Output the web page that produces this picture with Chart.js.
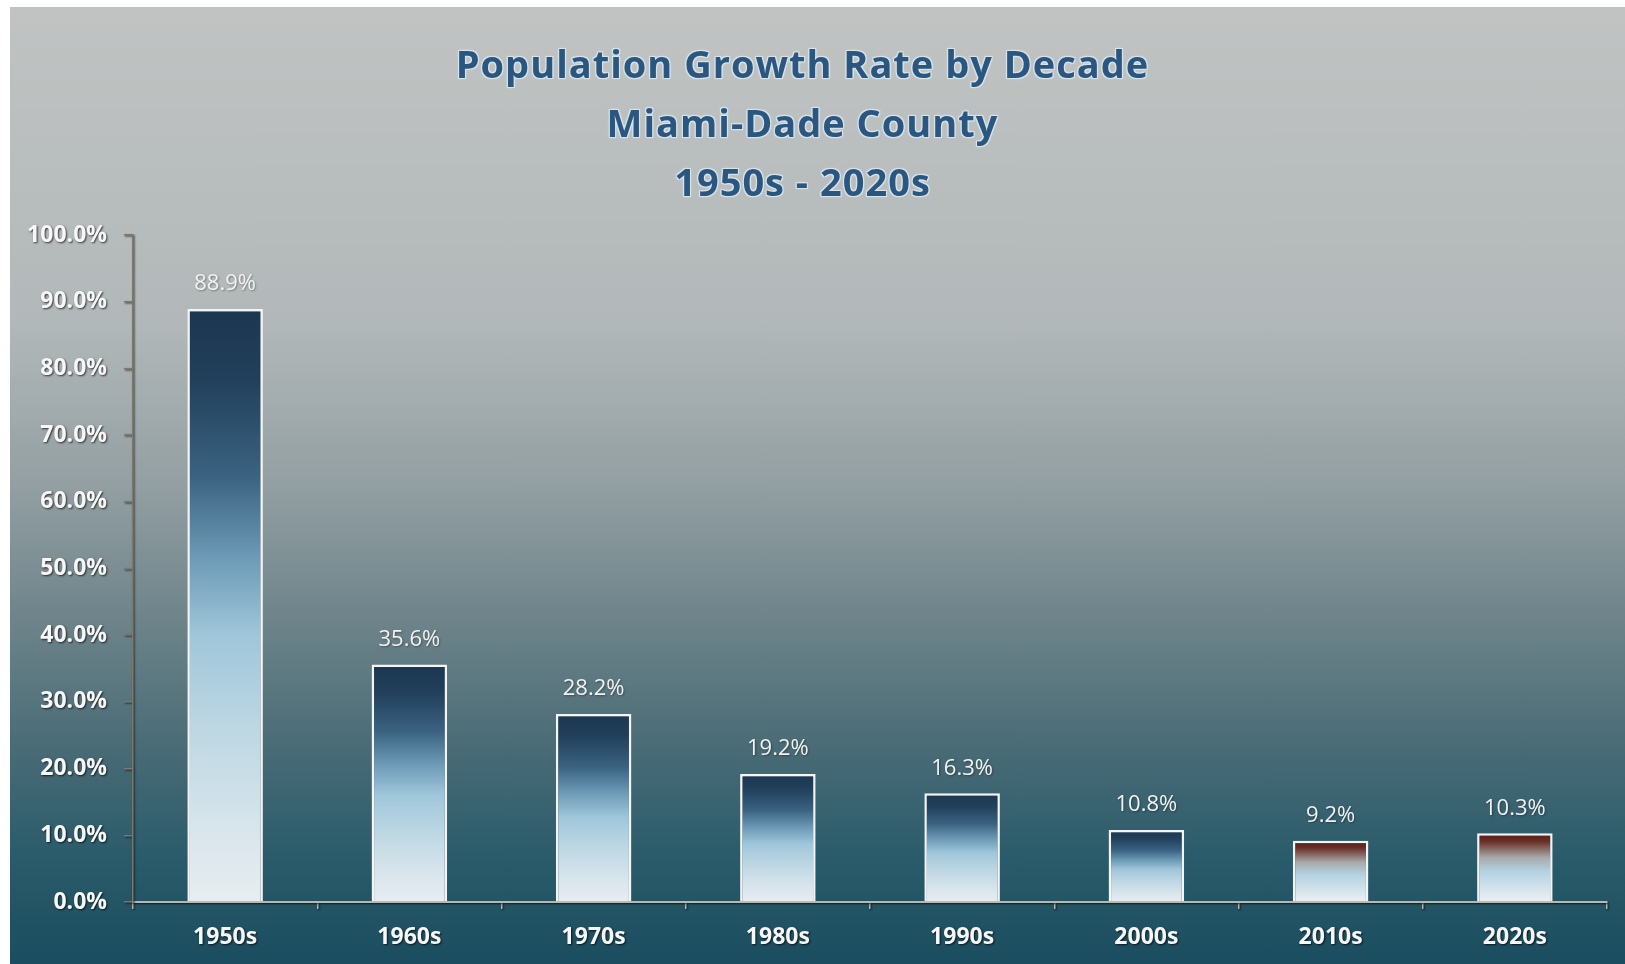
<!DOCTYPE html>
<html>
<head>
<meta charset="utf-8">
<title>Population Growth Rate by Decade</title>
<script src="https://cdn.jsdelivr.net/npm/chart.js@4.4.1/dist/chart.umd.min.js"></script>
<style>
  html, body { margin: 0; padding: 0; background: #fff; overflow: hidden; }
  #panel {
    position: absolute; left: 10px; top: 7px; width: 1615px; height: 957px;
    background: linear-gradient(to bottom,
      #c0c3c2 0%, #b2b8b9 33%, #939fa2 50%, #6b8288 65%,
      #4a6c76 77%, #2a5b6a 89%, #1a4d5f 100%);
  }
  #title {
    position: absolute; left: 0; right: 30px; top: 27px;
    text-align: center;
    font: bold 38px "Open Sans", sans-serif; line-height: 59px;
    letter-spacing: 1px;
    color: #2a5680;
    text-shadow: 1px 1px 0 #d6e4ec, -1px -1px 0 #d6e4ec, 1px -1px 0 #d6e4ec, -1px 1px 0 #d6e4ec, 0 0 3px #e6eef2;
  }
  #chart { position: absolute; left: 0; top: 0; }
</style>
</head>
<body>
<div id="panel">
  <canvas id="chart" width="1615" height="957"></canvas>
  <div id="title">Population Growth Rate by Decade<br>Miami-Dade County<br>1950s - 2020s</div>
</div>
<script>
// decade-over-decade growth, percent
const decades = ['1950s', '1960s', '1970s', '1980s', '1990s', '2000s', '2010s', '2020s'];
const growthRate = [88.9, 35.6, 28.2, 19.2, 16.3, 10.8, 9.2, 10.3];
const yMin = 0, yMax = 100, yStep = 10;

// bars from this index on get the warm (brown) top
const firstWarmBar = 6;
const tickFont = { family: 'Open Sans', size: 23, weight: 'bold' };

function barFill(context) {
  const chart = context.chart;
  if (!chart.chartArea || context.type !== 'data') return '#9fc4d8';
  const y = chart.scales.y;
  const top = y.getPixelForValue(context.raw);
  const base = y.getPixelForValue(0);
  const g = chart.ctx.createLinearGradient(0, top, 0, base);
  if (context.dataIndex >= firstWarmBar) {
    g.addColorStop(0, '#561a12');
    g.addColorStop(0.12, '#6a3028');
    g.addColorStop(0.35, '#a7a9a8');
    g.addColorStop(0.55, '#b2d2e2');
    g.addColorStop(1, '#eef0f2');
  } else {
    g.addColorStop(0, '#1c3650');
    g.addColorStop(0.12, '#22405b');
    g.addColorStop(0.28, '#3a6280');
    g.addColorStop(0.42, '#6d9ab6');
    g.addColorStop(0.55, '#a0c6da');
    g.addColorStop(0.7, '#bcd6e2');
    g.addColorStop(0.88, '#d9e5ec');
    g.addColorStop(1, '#e8edf0');
  }
  return g;
}

// value text above each bar
const valueLabels = {
  id: 'valueLabels',
  afterDatasetsDraw(chart) {
    const ctx = chart.ctx;
    ctx.save();
    ctx.font = '22px "Open Sans"';
    ctx.fillStyle = '#f2f2f2';
    ctx.textAlign = 'center';
    ctx.textBaseline = 'middle';
    ctx.shadowColor = 'rgba(0, 0, 0, 0.35)';
    ctx.shadowBlur = 2;
    ctx.shadowOffsetX = 1;
    ctx.shadowOffsetY = 1;
    chart.getDatasetMeta(0).data.forEach((bar, i) => {
      ctx.fillText(growthRate[i].toFixed(1) + '%', bar.x, bar.y - 25);
    });
    ctx.restore();
  }
};

// dark drop shadow behind the axis text
const axisShadow = {
  id: 'axisShadow',
  beforeDraw(chart) {
    const ctx = chart.ctx;
    ctx.save();
    ctx.shadowColor = 'rgba(0, 0, 0, 0.7)';
    ctx.shadowBlur = 2;
    ctx.shadowOffsetX = 1;
    ctx.shadowOffsetY = 1;
  },
  beforeDatasetsDraw(chart) {
    chart.ctx.restore();
  }
};

new Chart(document.getElementById('chart'), {
  type: 'bar',
  data: {
    labels: decades,
    datasets: [{
      data: growthRate,
      backgroundColor: barFill,
      borderColor: '#f4f4f4',
      borderWidth: 2.5,
      borderSkipped: 'start',
      categoryPercentage: 1,
      barPercentage: 0.41
    }]
  },
  options: {
    responsive: false,
    animation: false,
    layout: { padding: { top: 228, right: 18, bottom: 0, left: 0 } },
    scales: {
      x: {
        afterFit: s => { s.height = 62; },
        grid: { drawOnChartArea: false, tickLength: 7, color: '#b3b3ab', lineWidth: 1.5 },
        border: { color: '#b9b9b1', width: 2 },
        ticks: { color: '#f7f7f7', font: tickFont, padding: 15 }
      },
      y: {
        min: yMin,
        max: yMax,
        afterFit: s => { s.width = 123; },
        grid: { drawOnChartArea: false, tickLength: 9, color: '#7d796d', lineWidth: 1.5 },
        border: { color: '#7d796d', width: 1.5 },
        ticks: {
          stepSize: yStep,
          color: '#f7f7f7',
          font: tickFont,
          padding: 17,
          callback: v => v.toFixed(1) + '%'
        }
      }
    },
    plugins: {
      legend: { display: false },
      tooltip: { enabled: false }
    }
  },
  plugins: [axisShadow, valueLabels]
});
</script>
</body>
</html>
